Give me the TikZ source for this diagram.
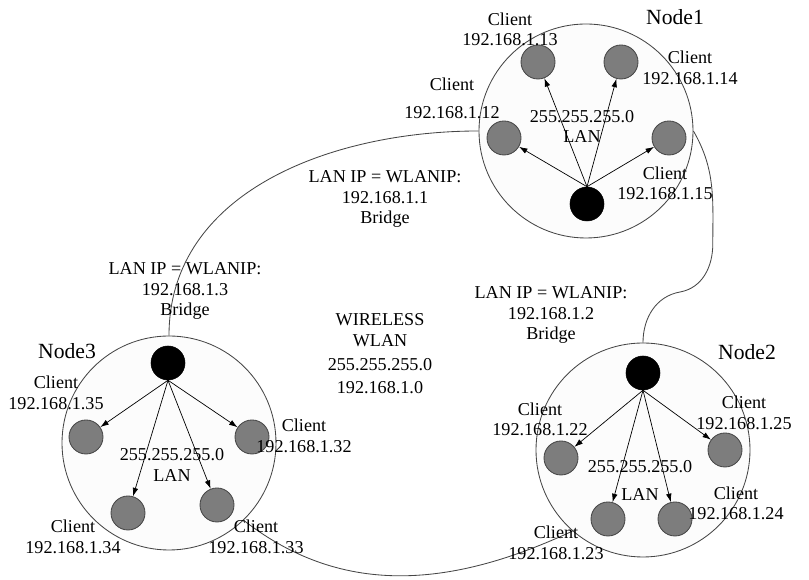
\documentclass[tikz,border=0pt]{standalone}
\usepackage{fontspec}
\setmainfont{Liberation Serif}
\usepackage{tikz}
\usetikzlibrary{arrows.meta}
\definecolor{myline}{RGB}{70,70,70}
\definecolor{mygray}{RGB}{125,125,125}
\definecolor{myring}{RGB}{252,252,252}
\tikzset{
  ring/.style={circle, draw=myline, fill=myring,
    minimum size=5.35cm, inner sep=0pt, line width=0.6pt},
  hub/.style={circle, draw=black, fill=black,
    minimum size=0.85cm, inner sep=0pt},
  client/.style={circle, draw=myline, fill=mygray,
    minimum size=0.85cm, inner sep=0pt, line width=0.6pt},
  lbl/.style={align=center, inner sep=0pt,
    font=\fontsize{12.9}{14.5}\selectfont},
  title/.style={inner sep=0pt, font=\fontsize{15.4}{18}\selectfont},
  arrow/.style={-{Latex[length=6pt,width=4pt]}, line width=0.5pt, color=black},
  link/.style={line width=0.6pt, color=myline}
}

\begin{document}
\begin{tikzpicture}
  \useasboundingbox (0,0) rectangle (20.225,14.5);

  % Rings
  \node[ring] (n1) at (14.65,11.225) {};
  \node[ring] (n3) at (4.225,3.425) {};
  \node[ring] (n2) at (16.075,3.25) {};

  % Links between the nodes
  \coordinate (k1) at (17.82,8.4);
  \coordinate (k2) at (17.0,7.2);
  \draw[link] (n1.west) to[out=180,in=90] (n3.north);
  \draw[link] (n1.east) to[out=-60,in=90] (k1) to[out=-90,in=10] (k2)
    to[out=190,in=90] (n2.north);
  \draw[link] (n3.-46) to[out=-38,in=205] (n2.229);

  % Node1
  \node[hub] (n1hub) at (14.675,9.4) {};
  \node[client] (c12) at (12.6,11.05) {};
  \node[client] (c13) at (13.45,12.95) {};
  \node[client] (c14) at (15.525,12.95) {};
  \node[client] (c15) at (16.725,11.05) {};
  \foreach \c in {c12,c13,c14,c15}
    \draw[arrow] (n1hub.north) -- (\c);

  % Node3
  \node[hub] (n3hub) at (4.2,5.425) {};
  \node[client] (c35) at (2.15,3.575) {};
  \node[client] (c32) at (6.3,3.575) {};
  \node[client] (c34) at (3.2,1.675) {};
  \node[client] (c33) at (5.425,1.875) {};
  \foreach \c in {c32,c33,c34,c35}
    \draw[arrow] (n3hub.south) -- (\c);

  % Node2
  \node[hub] (n2hub) at (16.075,5.175) {};
  \node[client] (c22) at (14.025,3.05) {};
  \node[client] (c25) at (18.125,3.25) {};
  \node[client] (c23) at (15.2,1.525) {};
  \node[client] (c24) at (16.875,1.525) {};
  \foreach \c in {c22,c23,c24,c25}
    \draw[arrow] (n2hub.south) -- (\c);

  % Titles
  \node[title] (t1) at (16.875,14.075) {Node1};
  \node[title] (t3) at (1.675,5.725) {Node3};
  \node[title] (t2) at (18.675,5.7) {Node2};

  % Client labels
  \node[lbl] (l13) at (12.75,13.76) {Client\\192.168.1.13};
  \node[lbl] (l14) at (17.25,12.8) {Client\\192.168.1.14};
  \node[lbl] (l12) at (11.3,12.04) {Client\\[5pt]192.168.1.12};
  \node[lbl] (l15) at (16.625,9.91) {Client\\192.168.1.15};
  \node[lbl] (lan1) at (14.55,11.34) {255.255.255.0\\LAN};

  \node[lbl] (l35) at (1.4,4.675) {Client\\192.168.1.35};
  \node[lbl] (l32) at (7.6,3.6) {Client\\192.168.1.32};
  \node[lbl] (l34) at (1.825,1.075) {Client\\192.168.1.34};
  \node[lbl] (l33) at (6.4,1.075) {Client\\192.168.1.33};
  \node[lbl] (lan3) at (4.3,2.875) {255.255.255.0\\LAN};

  \node[lbl] (l22) at (13.5,4.01) {Client\\192.168.1.22};
  \node[lbl] (l25) at (18.6,4.175) {Client\\192.168.1.25};
  \node[lbl] (l24) at (18.4,1.91) {Client\\192.168.1.24};
  \node[lbl] (l23) at (13.9,0.925) {Client\\192.168.1.23};
  \node[lbl] (lan2) at (16.0,2.49) {255.255.255.0\\[5pt]LAN};

  % Bridges and WLAN
  \node[lbl] (br1) at (9.625,9.525) {LAN IP = WLANIP:\\192.168.1.1\\Bridge};
  \node[lbl] (br2) at (13.775,6.625) {LAN IP = WLANIP:\\192.168.1.2\\Bridge};
  \node[lbl] (br3) at (4.625,7.225) {LAN IP = WLANIP:\\192.168.1.3\\Bridge};
  \node[lbl] (wlan) at (9.5,5.65)
    {WIRELESS\\WLAN\\[2.5pt]255.255.255.0\\[2.5pt]192.168.1.0};
\end{tikzpicture}
\end{document}
